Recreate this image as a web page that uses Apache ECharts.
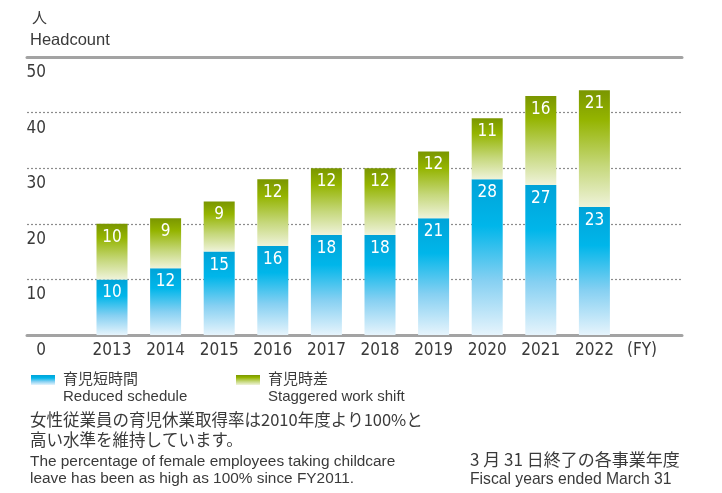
<!DOCTYPE html>
<html>
<head>
<meta charset="utf-8">
<script src="https://cdn.jsdelivr.net/npm/echarts@6/dist/echarts.min.js"></script>
<style>
  html, body { margin: 0; padding: 0; background: #fff; }
  #chart { width: 722px; height: 493px; }
</style>
</head>
<body>
<div id="chart"></div>
<script>
// data
const years = ['2013', '2014', '2015', '2016', '2017', '2018', '2019', '2020', '2021', '2022'];
const reduced = [10, 12, 15, 16, 18, 18, 21, 28, 27, 23];     // 育児短時間
const staggered = [10, 9, 9, 12, 12, 12, 12, 11, 16, 21];     // 育児時差

const numFont = '"DejaVu Sans Condensed", "Roboto", sans-serif';
const txtFont = '"Liberation Sans", Arial, sans-serif';
const jpFont = '"Noto Sans CJK JP", sans-serif';
const textColor = '#3a3a3a';

const blueGrad = new echarts.graphic.LinearGradient(0, 0, 0, 1, [
  { offset: 0, color: '#00a3d8' },
  { offset: 0.3, color: '#00b6ea' },
  { offset: 0.65, color: '#86d0f2' },
  { offset: 1, color: '#e6f4fc' }
]);
const greenGrad = new echarts.graphic.LinearGradient(0, 0, 0, 1, [
  { offset: 0, color: '#7a9600' },
  { offset: 0.25, color: '#94b400' },
  { offset: 0.65, color: '#c6d87c' },
  { offset: 1, color: '#eff3da' }
]);

const chart = echarts.init(document.getElementById('chart'));

const barLabel = {
  show: true,
  position: 'insideTop',
  distance: 5,
  color: '#fff',
  fontFamily: numFont,
  fontSize: 17
};

const option = {
  animation: false,
  grid: [
    { left: 27, right: 40, top: 57, bottom: 158 },
    { left: 85.2, right: 100.8, top: 57, bottom: 158 }
  ],
  xAxis: [
    {
      gridIndex: 0, type: 'value', min: 0, max: 1, position: 'bottom',
      axisLine: { show: true, lineStyle: { color: '#a3a3a3', width: 3 } },
      axisTick: { show: false }, axisLabel: { show: false }, splitLine: { show: false }
    },
    {
      gridIndex: 0, type: 'value', min: 0, max: 1, position: 'top',
      axisLine: { show: true, lineStyle: { color: '#a3a3a3', width: 3 } },
      axisTick: { show: false }, axisLabel: { show: false }, splitLine: { show: false }
    },
    {
      gridIndex: 1, type: 'category', data: years,
      axisLine: { show: false }, axisTick: { show: false },
      axisLabel: { interval: 0, color: textColor, fontFamily: numFont, fontSize: 17, margin: 7 }
    }
  ],
  yAxis: [
    {
      gridIndex: 0, type: 'value', min: 0, max: 50, interval: 10,
      axisLine: { show: false }, axisTick: { show: false },
      axisLabel: {
        inside: true, align: 'right', margin: 19, verticalAlign: 'top',
        padding: [7, 0, 0, 0],
        color: textColor, fontFamily: numFont, fontSize: 17
      },
      splitLine: { show: true, lineStyle: { color: '#8c8c8c', width: 1.2, type: [2, 2] } }
    },
    {
      gridIndex: 1, type: 'value', min: 0, max: 50, interval: 10,
      axisLine: { show: false }, axisTick: { show: false },
      axisLabel: { show: false }, splitLine: { show: false }
    }
  ],
  series: [
    {
      name: '育児短時間', type: 'bar', stack: 'total',
      xAxisIndex: 2, yAxisIndex: 1, barWidth: 31,
      itemStyle: { color: blueGrad },
      label: barLabel,
      data: reduced
    },
    {
      name: '育児時差', type: 'bar', stack: 'total',
      xAxisIndex: 2, yAxisIndex: 1, barWidth: 31,
      itemStyle: { color: greenGrad },
      label: barLabel,
      data: staggered
    }
  ],
  graphic: [
    { type: 'text', left: 32, top: 10, style: { text: '人', font: '15px ' + jpFont, fill: textColor } },
    { type: 'text', left: 30, top: 32, style: { text: 'Headcount', font: '16.5px ' + txtFont, fill: textColor } },
    { type: 'text', left: 627, top: 342, style: { text: '(FY)', font: '17px ' + numFont, fill: textColor } },

    // legend
    { type: 'rect', shape: { x: 31, y: 375, width: 24, height: 10 }, style: { fill: blueGrad } },
    { type: 'text', left: 63, top: 371, style: { text: '育児短時間', font: '15px ' + jpFont, fill: textColor } },
    { type: 'text', left: 63, top: 389, style: { text: 'Reduced schedule', font: '15px ' + txtFont, fill: textColor } },
    { type: 'rect', shape: { x: 236, y: 375, width: 24, height: 10 }, style: { fill: greenGrad } },
    { type: 'text', left: 268, top: 371, style: { text: '育児時差', font: '15px ' + jpFont, fill: textColor } },
    { type: 'text', left: 268, top: 389, style: { text: 'Staggered work shift', font: '15px ' + txtFont, fill: textColor } },

    // notes
    { type: 'text', left: 30, top: 411, style: { text: '女性従業員の育児休業取得率は2010年度より100%と', font: '16.5px ' + jpFont, fill: textColor } },
    { type: 'text', left: 30, top: 431, style: { text: '高い水準を維持しています。', font: '16.5px ' + jpFont, fill: textColor } },
    { type: 'text', left: 30, top: 454, style: { text: 'The percentage of female employees taking childcare', font: '15.4px ' + txtFont, fill: textColor } },
    { type: 'text', left: 30, top: 471, style: { text: 'leave has been as high as 100% since FY2011.', font: '15.4px ' + txtFont, fill: textColor } },
    { type: 'text', left: 470, top: 451, style: { text: '3 月 31 日終了の各事業年度', font: '17px ' + jpFont, fill: textColor } },
    { type: 'text', left: 470, top: 472, style: { text: 'Fiscal years ended March 31', font: '15.7px ' + txtFont, fill: textColor } }
  ]
};

chart.setOption(option);
</script>
</body>
</html>
